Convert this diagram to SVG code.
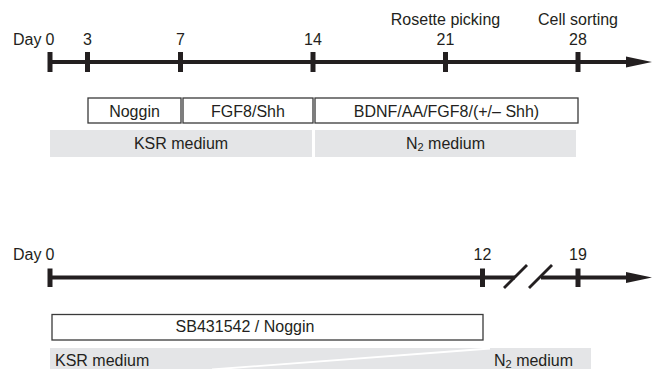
<svg xmlns="http://www.w3.org/2000/svg" width="655" height="369" viewBox="0 0 655 369">
<style>
text{font-family:"Liberation Sans",Arial,sans-serif;font-size:16px;fill:#231f20}
.m{text-anchor:middle}
.axis{stroke:#231f20;stroke-width:4;fill:none}
.tick{stroke:#231f20;stroke-width:5;fill:none}
.box{fill:#fff;stroke:#3a3a3a;stroke-width:1.3}
.med{fill:#e4e5e7}
.head{fill:#231f20}
.slash{stroke:#231f20;stroke-width:2.8}
</style>
<rect width="655" height="369" fill="#fff"/>
<g id="connectors">
<line class="axis" x1="50" y1="62" x2="630" y2="62"/>
<polygon class="head" points="626,56.5 652,62 626,67.5"/>
<line class="tick" x1="50" y1="52" x2="50" y2="72"/>
<line class="tick" x1="87.5" y1="52" x2="87.5" y2="72"/>
<line class="tick" x1="180.5" y1="52" x2="180.5" y2="72"/>
<line class="tick" x1="313" y1="52" x2="313" y2="72"/>
<line class="tick" x1="445.5" y1="52" x2="445.5" y2="72"/>
<line class="tick" x1="578" y1="52" x2="578" y2="72"/>
<line class="axis" x1="50" y1="277.5" x2="515" y2="277.5"/>
<line class="axis" x1="541" y1="277.5" x2="630" y2="277.5"/>
<polygon class="head" points="626,272 652,277.5 626,283"/>
<line class="tick" x1="50" y1="268.5" x2="50" y2="287"/>
<line class="tick" x1="482.5" y1="268.5" x2="482.5" y2="287"/>
<line class="tick" x1="578" y1="268.5" x2="578" y2="287"/>
<line class="slash" x1="504" y1="288" x2="527" y2="265"/>
<line class="slash" x1="529" y1="288" x2="552" y2="265"/>
</g>
<g id="labels-top">
<text x="13" y="44.5">Day</text>
<text class="m" x="50" y="44.5">0</text>
<text class="m" x="87.5" y="44.5">3</text>
<text class="m" x="180.5" y="44.5">7</text>
<text class="m" x="313" y="44.5">14</text>
<text class="m" x="445.5" y="44.5">21</text>
<text class="m" x="578" y="44.5">28</text>
<text class="m" x="445.5" y="24.5">Rosette picking</text>
<text class="m" x="578" y="24.5">Cell sorting</text>
</g>
<g id="noggin"><rect class="box" x="88" y="98" width="93" height="25"/><text class="m" x="134.5" y="116.5">Noggin</text></g>
<g id="fgf8shh"><rect class="box" x="183" y="98" width="130" height="25"/><text class="m" x="248" y="116.5">FGF8/Shh</text></g>
<g id="bdnf"><rect class="box" x="315" y="98" width="263" height="25"/><text class="m" x="446.5" y="116.5">BDNF/AA/FGF8/(+/– Shh)</text></g>
<g id="ksr-top"><rect class="med" x="50" y="130" width="262" height="27"/><text class="m" x="181" y="149">KSR medium</text></g>
<g id="n2-top"><rect class="med" x="315" y="130" width="261" height="27"/><text class="m" x="445.5" y="149">N<tspan font-size="11px" dy="1.5">2</tspan><tspan dy="-1.5"> medium</tspan></text></g>
<g id="labels-bottom">
<text x="13" y="260">Day</text>
<text class="m" x="50" y="260">0</text>
<text class="m" x="482.5" y="260">12</text>
<text class="m" x="578" y="260">19</text>
</g>
<g id="sb431542"><rect class="box" x="52" y="314.5" width="431" height="25.5"/><text class="m" x="245" y="332">SB431542 / Noggin</text></g>
<g id="media-bottom">
<rect class="med" x="50" y="348" width="541" height="21"/>
<line stroke="#fff" stroke-width="1.8" x1="212" y1="369.5" x2="490" y2="348.5"/>
<text x="55" y="366">KSR medium</text>
<text x="494" y="366">N<tspan font-size="11px" dy="1.5">2</tspan><tspan dy="-1.5"> medium</tspan></text>
</g>
</svg>
